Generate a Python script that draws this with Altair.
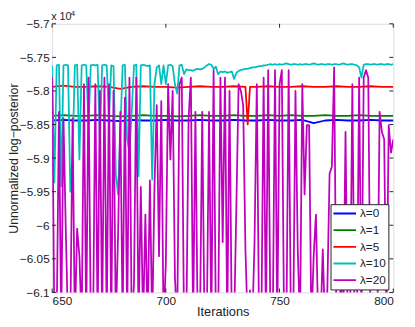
import altair as alt
import pandas as pd

# ---------------- data (values in units of 1e4) ----------------
iters = list(range(650, 801))

lam0_x = list(range(650, 801, 5))
lam0_y = [-5.844, -5.843, -5.844, -5.844, -5.843, -5.844, -5.845, -5.843, -5.844, -5.844,
          -5.843, -5.844, -5.844, -5.843, -5.844, -5.844, -5.843, -5.844, -5.844, -5.843,
          -5.844, -5.844, -5.843, -5.848, -5.844, -5.843, -5.844, -5.844, -5.843, -5.844,
          -5.844]

lam1_x = list(range(650, 801, 5))
lam1_y = [-5.837, -5.836, -5.837, -5.837, -5.836, -5.837, -5.838, -5.837, -5.836, -5.837,
          -5.837, -5.838, -5.837, -5.836, -5.837, -5.837, -5.836, -5.837, -5.837, -5.836,
          -5.837, -5.836, -5.837, -5.837, -5.836, -5.837, -5.837, -5.836, -5.837, -5.837,
          -5.837]

lam5_x = list(range(650, 736, 5)) + [736, 737] + list(range(740, 801, 5))
lam5_y = [-5.794, -5.792, -5.794, -5.794, -5.793, -5.794, -5.797, -5.794, -5.793, -5.794,
          -5.794, -5.795, -5.794, -5.793, -5.794, -5.794, -5.793, -5.794,
          -5.850, -5.794,
          -5.794, -5.793, -5.794, -5.794, -5.793, -5.794, -5.794, -5.793, -5.794, -5.794,
          -5.793, -5.794, -5.794]

lam10_y = [
    -5.762, -5.936, -5.762, -5.761, -5.942, -5.762, -5.761, -5.762, -5.950, -5.892,
    -5.762, -5.761, -5.902, -5.762, -5.761, -5.762, -5.851, -5.762, -5.761, -5.762,
    -5.761, -5.872, -5.762, -5.761, -5.762, -5.841, -5.762, -5.763, -5.923, -5.954,
    -5.861, -5.762, -5.761, -5.872, -5.892, -5.831, -5.762, -5.761, -5.927, -5.762,
    -5.761, -5.762, -5.763, -5.762, -5.932, -5.790, -5.765, -5.762, -5.790, -5.762,
    -5.790, -5.762, -5.761, -5.763, -5.790, -5.804, -5.762, -5.761, -5.775, -5.768,
    -5.769, -5.769, -5.770, -5.768, -5.767, -5.768, -5.767, -5.765, -5.762, -5.760,
    -5.761, -5.767, -5.764, -5.775, -5.771, -5.772, -5.771, -5.773, -5.772, -5.771,
    -5.782, -5.773, -5.770, -5.769, -5.768, -5.767, -5.767, -5.766, -5.765, -5.765,
    -5.764, -5.763, -5.763, -5.762, -5.762, -5.761, -5.760, -5.761, -5.760, -5.761,
    -5.760, -5.761, -5.760, -5.759, -5.760, -5.761, -5.760, -5.760, -5.761, -5.760,
    -5.761, -5.760, -5.760, -5.761, -5.760, -5.759, -5.760, -5.761, -5.760, -5.760,
    -5.761, -5.760, -5.760, -5.761, -5.760, -5.760, -5.761, -5.760, -5.759, -5.760,
    -5.761, -5.760, -5.760, -5.761, -5.762, -5.765, -5.780, -5.761, -5.760, -5.760,
    -5.761, -5.760, -5.760, -5.761, -5.760, -5.760, -5.761, -5.760, -5.760, -5.761,
    -5.760]

lam20_y = [
    -5.780, -6.15, -6.15, -5.831, -6.15, -5.841, -6.005, -6.15, -6.15, -5.841,
    -6.15, -6.005, -6.046, -6.15, -5.790, -6.15, -5.780, -6.15, -6.15, -5.790,
    -6.15, -5.800, -6.15, -5.780, -6.15, -5.790, -6.15, -5.800, -6.15, -6.015,
    -5.831, -6.15, -5.810, -6.15, -5.780, -6.15, -6.087, -5.780, -6.15, -5.943,
    -6.15, -5.984, -6.15, -5.933, -6.15, -5.943, -5.821, -6.046, -5.815, -6.15,
    -6.056, -5.790, -5.902, -5.800, -6.077, -6.15, -5.790, -5.780, -6.15, -6.15,
    -5.841, -5.780, -6.15, -5.831, -6.15, -6.15, -5.831, -6.15, -6.15, -5.831,
    -6.15, -5.769, -6.15, -6.15, -5.780, -6.025, -5.780, -6.15, -5.800, -6.15,
    -6.15, -5.974, -5.790, -5.800, -5.821, -6.036, -6.15, -6.097, -6.15, -6.025,
    -5.790, -6.15, -6.15, -5.780, -6.15, -5.769, -6.15, -6.15, -5.769, -6.15,
    -5.790, -5.769, -6.15, -6.15, -5.769, -6.15, -6.15, -5.800, -6.036, -6.15,
    -5.790, -5.954, -5.851, -5.851, -6.15, -6.046, -5.984, -6.15, -6.15, -6.036,
    -6.15, -6.097, -5.923, -5.913, -5.765, -6.15, -6.15, -6.077, -6.15, -5.861,
    -6.15, -6.15, -5.790, -6.15, -6.15, -5.780, -6.15, -5.780, -5.769, -5.780,
    -6.15, -6.15, -6.15, -6.15, -5.831, -5.861, -5.872, -6.15, -5.851, -5.892,
    -5.872]

labels = ["λ=0", "λ=1", "λ=5", "λ=10", "λ=20"]
colors = ["#0000FF", "#008000", "#FF0000", "#00BFBF", "#BF00BF"]
x_ticks = [650, 700, 750, 800]
y_ticks = [-5.7, -5.75, -5.8, -5.85, -5.9, -5.95, -6.0, -6.05, -6.1]

series = [
    (labels[0], lam0_x, lam0_y),
    (labels[1], lam1_x, lam1_y),
    (labels[2], lam5_x, lam5_y),
    (labels[3], iters, lam10_y),
    (labels[4], iters, lam20_y),
]

rows = []
for lab, xs, ys in series:
    for i, (xv, yv) in enumerate(zip(xs, ys)):
        rows.append({"iter": xv, "val": yv, "lam": lab, "order": i})
df = pd.DataFrame(rows)

W, H = 348, 274
FONT = "Liberation Sans"
AX = "#222222"

xscale = alt.Scale(domain=[650, 800], nice=False, zero=False)
yscale = alt.Scale(domain=[-6.1, -5.7], nice=False, zero=False)
cscale = alt.Scale(domain=labels, range=colors)

x_axis = alt.Axis(values=x_ticks, format="d", title="Iterations",
                  tickSize=0, domain=False, grid=False,
                  labelPadding=3, labelFontSize=12, labelFont=FONT, labelColor=AX,
                  titleFontSize=13, titleFont=FONT, titleColor=AX,
                  titleFontWeight="normal", titleBaseline="alphabetic",
                  titleY=23.5)
y_axis = alt.Axis(values=y_ticks, format="~g", title="Unnormalized log−posterior",
                  tickSize=0, domain=False, grid=False,
                  labelPadding=3, labelFontSize=12, labelFont=FONT, labelColor=AX,
                  titleFontSize=12.5, titleFont=FONT, titleColor=AX,
                  titleFontWeight="normal", titleBaseline="alphabetic",
                  titleAngle=270, titleX=-35.3, titleY=H / 2)

legend = alt.Legend(title=None, orient="none", legendX=284, legendY=184,
                    symbolType="stroke", symbolSize=529, symbolStrokeWidth=1.8,
                    labelFontSize=12, labelFont=FONT, labelColor=AX,
                    strokeColor=AX, fillColor="white", clipHeight=15,
                    padding=2, rowPadding=2, labelOffset=3, cornerRadius=0)

layers = []
for lab in labels:
    layers.append(
        alt.Chart(df)
        .transform_filter(alt.datum.lam == lab)
        .mark_line(clip=True, strokeWidth=1.8, strokeJoin="round")
        .encode(
            x=alt.X("iter:Q", scale=xscale, axis=x_axis),
            y=alt.Y("val:Q", scale=yscale, axis=y_axis),
            color=alt.Color("lam:N", scale=cscale, legend=legend),
            order=alt.Order("order:Q"),
        )
    )

xt = pd.DataFrame({"iter": x_ticks})
yt = pd.DataFrame({"val": y_ticks})
tick_len = 4
tick_layers = [
    alt.Chart(xt).mark_rule(color=AX, strokeWidth=1).encode(
        x=alt.X("iter:Q", scale=xscale, axis=x_axis), y=alt.value(H), y2=alt.value(H - tick_len)),
    alt.Chart(xt).mark_rule(color=AX, strokeWidth=1).encode(
        x=alt.X("iter:Q", scale=xscale, axis=x_axis), y=alt.value(0), y2=alt.value(tick_len)),
    alt.Chart(yt).mark_rule(color=AX, strokeWidth=1).encode(
        y=alt.Y("val:Q", scale=yscale, axis=y_axis), x=alt.value(0), x2=alt.value(tick_len)),
    alt.Chart(yt).mark_rule(color=AX, strokeWidth=1).encode(
        y=alt.Y("val:Q", scale=yscale, axis=y_axis), x=alt.value(W), x2=alt.value(W - tick_len)),
]

exp_df = pd.DataFrame({"a": ["x 10"], "b": ["4"]})
exp_layers = [
    alt.Chart(exp_df).mark_text(align="left", baseline="alphabetic", fontSize=11,
                                font=FONT, color=AX).encode(
        x=alt.value(-1), y=alt.value(-3.5), text="a:N"),
    alt.Chart(exp_df).mark_text(align="left", baseline="alphabetic", fontSize=8,
                                font=FONT, color=AX).encode(
        x=alt.value(19), y=alt.value(-8), text="b:N"),
]

chart = (
    alt.layer(*layers, *tick_layers, *exp_layers)
    .properties(width=W, height=H,
                autosize=alt.AutoSizeParams(type="none"),
                padding={"left": 45, "top": 13, "right": 14, "bottom": 24})
    .configure_view(stroke=AX, strokeWidth=1)
    .configure(background="white")
)

chart.save("out.html", embed_options={"renderer": "svg", "actions": False})
